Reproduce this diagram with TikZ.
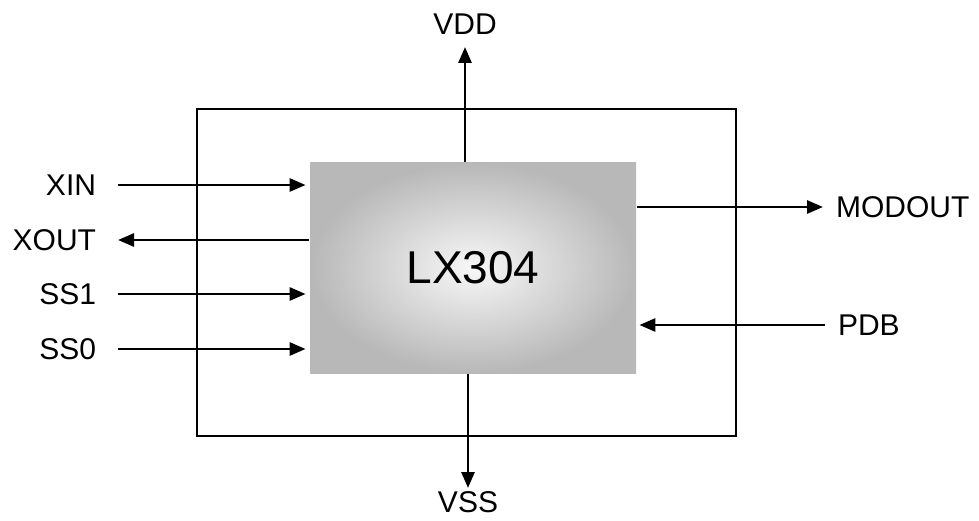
\documentclass[tikz,border=0pt]{standalone}
\usepackage{fontspec}
\setmainfont{Liberation Sans}
\usetikzlibrary{arrows.meta}
\usetikzlibrary{positioning}

\begin{document}
\begin{tikzpicture}[x=1pt,y=1pt,line width=2.8pt,>={Triangle[length=16pt,width=13pt]},
                    every node/.append style={inner sep=0pt},
                    pin/.style={font=\fontsize{30}{36}\selectfont},
                    lpin/.style={pin,anchor=east,outer xsep=22pt},
                    rpin/.style={pin,anchor=west,outer xsep=13pt},
                    chip/.style={minimum width=326pt,minimum height=210pt,shading=radial,
                                 inner color=white!97!black,outer color=black!28,
                                 font=\fontsize{46}{55}\selectfont}]

\useasboundingbox (0,0) rectangle (979,520);

\node [draw,minimum width=539pt,minimum height=327pt] (frame) at (466.5,247.5) {};
\node [chip] (chip) at (473,252) {LX304};

\node [lpin] (xin) at (118,335) {XIN};
\node [lpin] (xout) at (118,280) {XOUT};
\node [lpin] (ss1) at (118,226) {SS1};
\node [lpin] (ss0) at (118,171) {SS0};
\node [rpin] (modout) at (823,313) {MODOUT};
\node [rpin] (pdb) at (825,195) {PDB};
\node [pin,anchor=south,outer ysep=12pt] (vdd) at (465,473) {VDD};
\node [pin,anchor=north,outer ysep=4pt] (vss) at (468,32) {VSS};

\draw [->,shorten >=3pt] (xin) -- (xin -| chip.west);
\draw [<-] (xout) -- (xout -| chip.west);
\draw [->,shorten >=3pt] (ss1) -- (ss1 -| chip.west);
\draw [->,shorten >=3pt] (ss0) -- (ss0 -| chip.west);
\draw [->] (chip.east |- modout) -- (modout);
\draw [->,shorten >=2pt] (pdb) -- (chip.east |- pdb);
\draw [->] (chip.north -| vdd) -- (vdd);
\draw [->] (chip.south -| vss) -- (vss);

\end{tikzpicture}
\end{document}
